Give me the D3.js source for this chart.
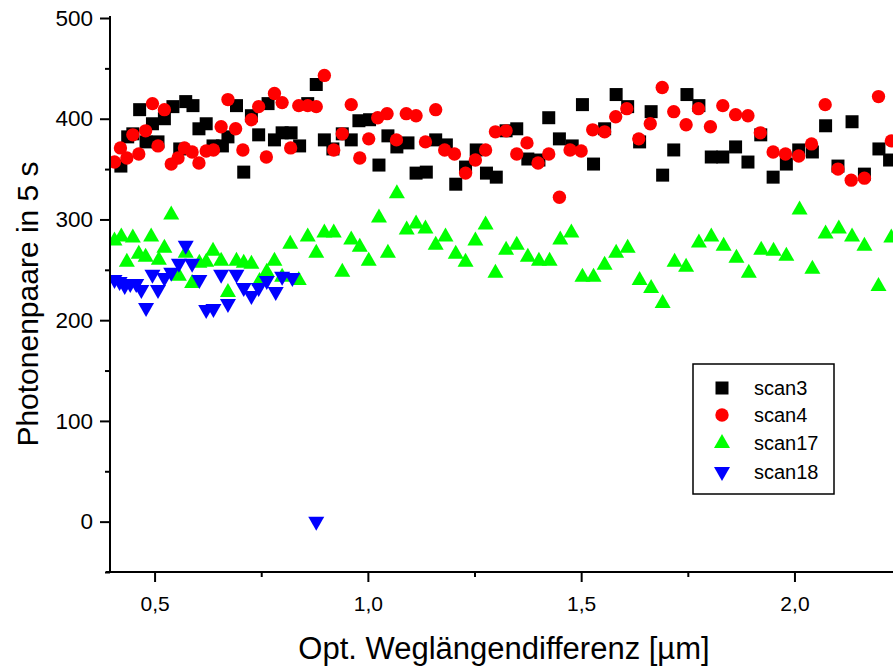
<!DOCTYPE html>
<html>
<head>
<meta charset="utf-8">
<script src="https://cdn.jsdelivr.net/npm/d3@7"></script>
<style>
  body { margin: 0; background: #fff; }
  svg text { font-family: "Liberation Sans", Arial, sans-serif; fill: #000; }
</style>
</head>
<body>
<svg width="893" height="666"></svg>
<script>
// scan3 - black squares
var scan3X = [0.421,0.437,0.449,0.465,0.480,0.495,0.508,0.523,0.543,0.559,0.573,0.590,0.604,0.621,0.637,0.659,0.672,0.692,0.709,0.727,0.744,0.766,0.781,0.799,0.820,0.840,0.859,0.879,0.898,0.918,0.940,0.961,0.979,1.004,1.026,1.047,1.068,1.094,1.113,1.137,1.159,1.184,1.206,1.229,1.254,1.278,1.301,1.324,1.349,1.375,1.401,1.424,1.449,1.479,1.503,1.529,1.555,1.582,1.609,1.637,1.664,1.691,1.717,1.748,1.776,1.805,1.832,1.862,1.891,1.921,1.950,1.981,2.010,2.042,2.073,2.102,2.135,2.164,2.198,2.223];
var scan3Y = [353,382,385,409,377,395,377,400,412,370,417,413,390,395,373,373,382,413,347,403,384,415,379,386,386,373,415,434,379,370,385,379,398,399,354,383,372,376,346,347,379,374,335,352,369,346,342,388,390,360,359,401,380,373,414,355,390,424,412,377,407,344,369,424,413,362,362,372,357,384,342,355,369,367,393,353,397,345,370,359];

// scan4 - red circles
var scan4X = [0.406,0.420,0.435,0.449,0.463,0.479,0.495,0.508,0.523,0.539,0.555,0.570,0.588,0.604,0.621,0.638,0.656,0.672,0.690,0.707,0.727,0.744,0.762,0.781,0.799,0.819,0.838,0.859,0.879,0.898,0.920,0.940,0.961,0.981,1.002,1.023,1.045,1.067,1.090,1.113,1.135,1.159,1.180,1.203,1.229,1.252,1.276,1.299,1.324,1.349,1.373,1.399,1.424,1.449,1.474,1.500,1.527,1.555,1.581,1.607,1.635,1.662,1.690,1.717,1.746,1.775,1.803,1.832,1.862,1.891,1.920,1.950,1.979,2.010,2.040,2.072,2.102,2.133,2.164,2.197,2.227];
var scan4Y = [357,371,361,384,365,388,415,373,409,355,361,371,367,356,368,369,392,419,390,369,399,412,362,425,416,371,413,413,412,443,369,385,414,361,380,401,405,379,405,403,377,409,369,365,346,359,369,387,388,365,376,356,365,322,369,368,389,387,402,410,380,395,431,407,394,410,392,413,404,403,386,367,365,363,375,414,350,339,341,422,378];

// scan17 - green triangles
var scan17X = [0.406,0.422,0.435,0.449,0.463,0.479,0.492,0.510,0.523,0.539,0.557,0.573,0.588,0.605,0.621,0.637,0.656,0.672,0.692,0.709,0.727,0.746,0.763,0.781,0.799,0.818,0.838,0.859,0.879,0.898,0.920,0.940,0.961,0.981,1.002,1.026,1.047,1.068,1.091,1.113,1.135,1.159,1.182,1.206,1.229,1.252,1.276,1.299,1.324,1.349,1.375,1.401,1.426,1.451,1.477,1.503,1.529,1.555,1.582,1.609,1.637,1.664,1.691,1.719,1.746,1.776,1.805,1.834,1.864,1.893,1.922,1.951,1.981,2.012,2.042,2.073,2.104,2.135,2.164,2.197,2.227];
var scan17Y = [279,283,258,282,266,263,283,260,272,305,244,267,237,257,258,269,259,228,259,257,256,239,248,259,243,276,240,283,267,287,287,248,280,273,259,302,267,326,290,296,291,275,283,266,258,279,295,247,270,275,263,259,259,280,287,243,243,255,267,272,240,232,217,258,253,277,283,274,262,247,270,269,264,310,251,286,291,283,274,234,282];

// scan18 - blue triangles (down)
var scan18X = [0.406,0.418,0.430,0.443,0.457,0.469,0.480,0.495,0.508,0.523,0.539,0.557,0.573,0.588,0.605,0.621,0.638,0.656,0.672,0.692,0.709,0.727,0.744,0.763,0.784,0.799,0.823,0.879];
var scan18Y = [240,238,234,236,236,230,212,245,230,242,247,256,274,256,240,210,211,245,216,245,232,224,232,239,228,243,242,0];

var xTicks = [0.5, 1.0, 1.5, 2.0];
var xMinor = [0.75, 1.25, 1.75];
var yTicks = [0, 100, 200, 300, 400, 500];
var yMinor = [-50, 50, 150, 250, 350, 450];

var series = [
    {name: "scan3", xs: scan3X, ys: scan3Y, color: "#000000", shape: "square"},
    {name: "scan4", xs: scan4X, ys: scan4Y, color: "#ff0000", shape: "circle"},
    {name: "scan17", xs: scan17X, ys: scan17Y, color: "#00ff00", shape: "up"},
    {name: "scan18", xs: scan18X, ys: scan18Y, color: "#0000ff", shape: "down"}
];

var svg = d3.select("svg");
// plot frame (window.top is reserved, so prefix names)
var pLeft = 110, pRight = 893, pTop = 18, pBottom = 572;

var x = d3.scaleLinear().domain([0.3955, 2.231]).range([pLeft, pRight]);
var y = d3.scaleLinear().domain([-50, 500]).range([pBottom, pTop]);

// marker shapes
function markerPath(shape) {
    if (shape == "square") return d3.symbol().type(d3.symbolSquare).size(169)();
    if (shape == "circle") return d3.symbol().type(d3.symbolCircle).size(140)();
    // triangles drawn by hand so they can be flipped
    if (shape == "up") return "M0,-9L8,5L-8,5Z";
    return "M0,9L8,-5L-8,-5Z";
}

svg.append("clipPath").attr("id", "plot")
    .append("rect").attr("x", pLeft).attr("y", 0).attr("width", pRight - pLeft).attr("height", pBottom);

var plot = svg.append("g").attr("clip-path", "url(#plot)");

series.forEach(function(s) {
    var pts = s.xs.map(function(v, i) { return [v, s.ys[i]]; });
    plot.append("g").selectAll("path")
        .data(pts)
        .enter().append("path")
        .attr("d", markerPath(s.shape))
        .attr("fill", s.color)
        .attr("transform", function(d) { return "translate(" + x(d[0]) + "," + y(d[1]) + ")"; });
});

// axes
var xAx = svg.append("g").attr("transform", "translate(0," + pBottom + ")")
    .call(d3.axisBottom(x).tickValues(xTicks).tickSize(10).tickPadding(14)
        .tickFormat(function(d) { return d3.format(".1f")(d).replace(".", ","); }));
svg.append("g").attr("transform", "translate(0," + pBottom + ")")
    .call(d3.axisBottom(x).tickValues(xMinor).tickSize(5).tickFormat(""));

var yAx = svg.append("g").attr("transform", "translate(" + pLeft + ",0)")
    .call(d3.axisLeft(y).tickValues(yTicks).tickSize(10).tickPadding(7));
svg.append("g").attr("transform", "translate(" + pLeft + ",0)")
    .call(d3.axisLeft(y).tickValues(yMinor).tickSize(5).tickFormat(""));

svg.selectAll(".domain").remove();
svg.selectAll(".tick line").attr("stroke", "#000").attr("stroke-width", 2);
xAx.selectAll(".tick text").style("font-size", "21px");
yAx.selectAll(".tick text").style("font-size", "22.5px");

// axis lines
svg.append("line").attr("x1", 106).attr("x2", pRight).attr("y1", pBottom).attr("y2", pBottom)
    .attr("stroke", "#000").attr("stroke-width", 2);
svg.append("line").attr("x1", pLeft).attr("x2", pLeft).attr("y1", pTop - 2).attr("y2", pBottom)
    .attr("stroke", "#000").attr("stroke-width", 2);

// titles
svg.append("text")
    .attr("x", 504).attr("y", 659)
    .attr("text-anchor", "middle")
    .style("font-size", "31px")
    .text("Opt. Weglängendifferenz [µm]");

svg.append("text")
    .attr("transform", "translate(38,304) rotate(-90)")
    .attr("text-anchor", "middle")
    .style("font-size", "30px")
    .text("Photonenpaare in 5 s");

// legend
var legend = svg.append("g");
legend.append("rect")
    .attr("x", 693).attr("y", 364).attr("width", 141).attr("height", 130)
    .attr("fill", "#fff").attr("stroke", "#000").attr("stroke-width", 1.5);

var rowY = [388, 415, 443, 472];
series.forEach(function(s, i) {
    legend.append("path")
        .attr("d", markerPath(s.shape))
        .attr("fill", s.color)
        .attr("transform", "translate(722," + rowY[i] + ")");
    legend.append("text")
        .attr("x", 754).attr("y", rowY[i] + 7)
        .style("font-size", "20px")
        .text(s.name);
});
</script>
</body>
</html>
